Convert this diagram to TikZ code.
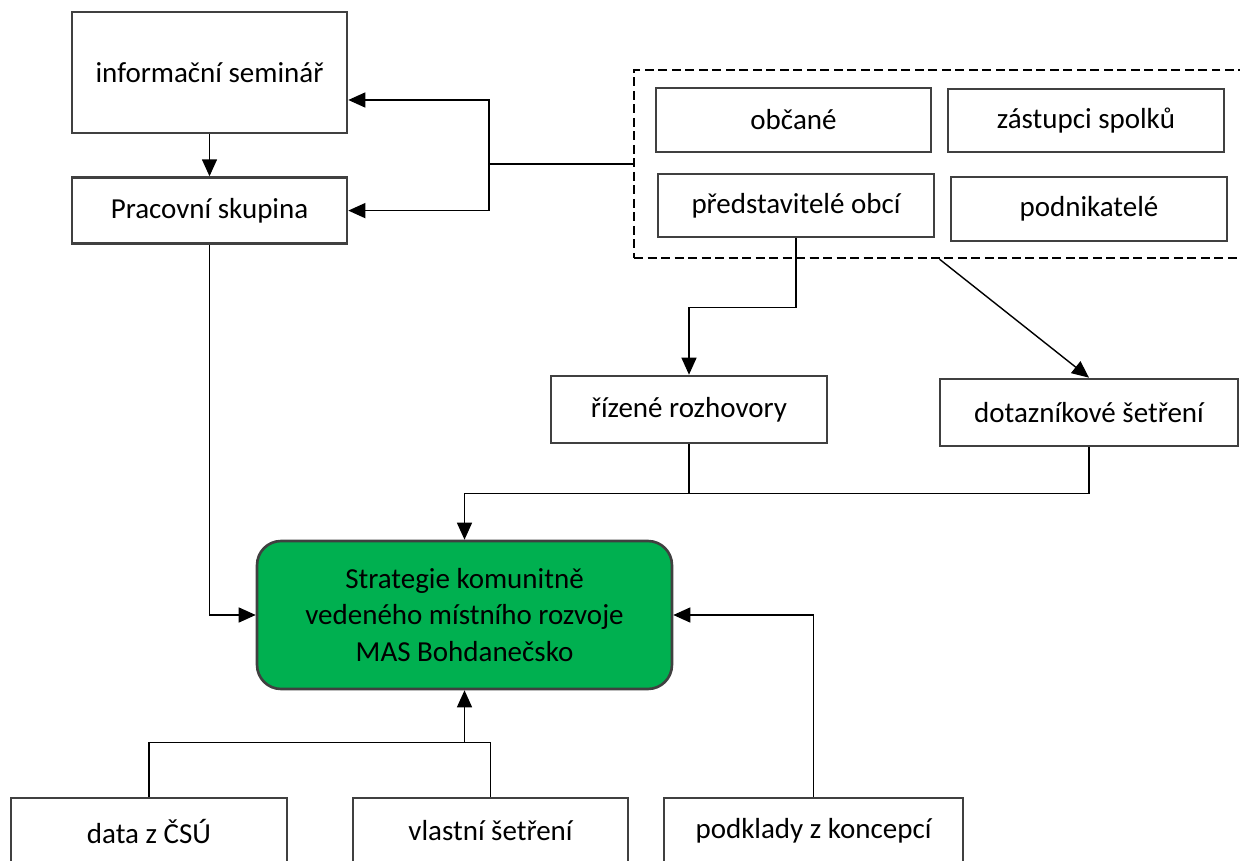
\documentclass[tikz,border=0pt]{standalone}
\usepackage{fontspec}
\setmainfont{Carlito}
\usetikzlibrary{positioning,arrows.meta,calc}
\definecolor{boxgray}{HTML}{404040}
\definecolor{masgreen}{HTML}{00B050}
\tikzset{
  box/.style={draw=boxgray, line width=1.5pt, fill=white, inner sep=0pt, align=center, font=\fontsize{16.5}{21}\selectfont},
  group/.style={draw=black, line width=1.4pt, dash pattern=on 0.18cm off 0.09cm},
  link/.style={line width=0.8pt},
  arr/.style={link, -{Triangle[length=0.34cm,width=0.3cm]}},
}

\begin{document}
\begin{tikzpicture}[x=0.02cm, y=-0.02cm]
	\useasboundingbox (0,0) rectangle (1240,861);
	%
	\node[box, minimum width=5.5cm, minimum height=2.42cm] (sem) at (209.5,72.5) {informační seminář};
	\node[box, minimum width=5.5cm, minimum height=1.32cm, below=0.84cm of sem] (prac) {Pracovní skupina};
	%
	\node[group, minimum width=12.22cm, minimum height=3.76cm] (grp) at (939.5,164) {};
	\node[box, minimum width=5.5cm, minimum height=1.28cm] (obc) at (793.5,120) {občané};
	\node[box, minimum width=5.52cm, minimum height=1.26cm] (zast) at (1086,120.5) {zástupci spolků};
	\node[box, minimum width=5.52cm, minimum height=1.26cm] (pred) at (796,205.5) {představitelé obcí};
	\node[box, minimum width=5.52cm, minimum height=1.28cm] (podn) at (1089,209) {podnikatelé};
	%
	\node[box, minimum width=5.52cm, minimum height=1.34cm] (riz) at (689,409.5) {řízené rozhovory};
	\node[box, minimum width=5.96cm, minimum height=1.34cm] (dot) at (1089,412.5) {dotazníkové šetření};
	%
	\node[box, fill=masgreen, rounded corners=0.48cm, minimum width=8.3cm, minimum height=2.96cm] (sclld) at (464.5,615) {Strategie komunitně\\vedeného místního rozvoje\\MAS Bohdanečsko};
	%
	\node[box, minimum width=5.52cm, minimum height=1.32cm] (csu) at (149,831) {data z ČSÚ};
	\node[box, minimum width=5.5cm, minimum height=1.32cm] (vlast) at (490.5,831) {vlastní šetření};
	\node[box, minimum width=5.98cm, minimum height=1.32cm] (konc) at (813.5,831) {podklady z koncepcí};
	%
	\draw[arr] (sem) -- (prac);
	\draw[link] (grp.west) -- ++(-144,0) coordinate (fork);
	\draw[arr] (fork) |- ([yshift=-0.55cm]sem.east);
	\draw[arr] (fork) |- (prac.east);
	\draw[arr] (pred.south) -- ++(0,69) -| (riz.north);
	\draw[arr] (grp.south) -- (dot.north);
	\draw[arr] (riz.south) -- ++(0,49) coordinate (join) -| (sclld.north);
	\draw[link] (dot.south) |- (join);
	\draw[arr] (prac.south) |- (sclld.west);
	\draw[arr] (konc.north) |- (sclld.east);
	\draw[link] (csu.north) -- ++(0,-54) coordinate (base) -| (vlast.north);
	\draw[arr] (sclld.south |- base) -- (sclld.south);
\end{tikzpicture}
\end{document}
